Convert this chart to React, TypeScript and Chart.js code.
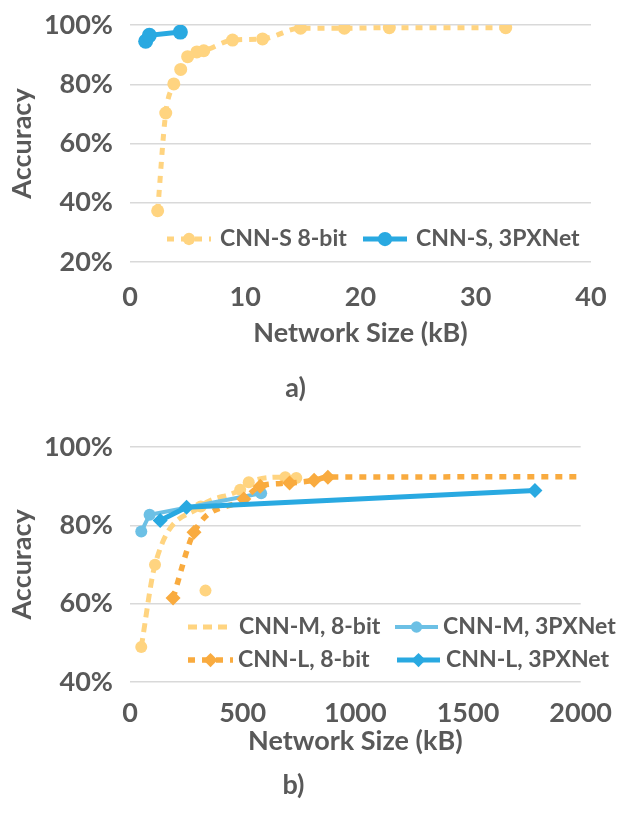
import { useEffect, useRef } from "react";
import { Chart, registerables } from "chart.js";

Chart.register(...registerables);

const FONT = "Lato, 'Open Sans', sans-serif";
const TEXT = "#595959";
const GRID = "#D9D9D9";
const YELLOW = "#FFD480";
const ORANGE = "#F9AB3F";
const LIGHT_BLUE = "#6CC0E5";
const BLUE = "#29A9E1";

// a) CNN-S: network size (kB) vs accuracy (%)
const cnnS8bitSize = [2.4, 3.1, 3.8, 4.4, 5.0, 5.8, 6.4, 8.9, 11.5, 14.8, 18.6, 22.5, 32.6];
const cnnS8bitAcc = [37.3, 70.3, 80.1, 85.0, 89.3, 90.9, 91.3, 94.9, 95.3, 98.9, 98.9, 99.1, 99.1];
const cnnS3pxSize = [1.36, 1.68, 4.37];
const cnnS3pxAcc = [94.5, 96.5, 97.6];

// b) CNN-M and CNN-L
const cnnM8bitSize = [50, 111, 314, 489, 527, 689, 738];
const cnnM8bitAcc = [48.9, 69.9, 84.8, 89.1, 91.0, 92.3, 92.1];
const cnnM8bitExtraSize = [335];
const cnnM8bitExtraAcc = [63.3];
const cnnM3pxSize = [50, 87, 582];
const cnnM3pxAcc = [78.4, 82.7, 88.2];
const cnnL8bitSize = [191, 284, 505, 578, 708, 817, 878, 2600];
const cnnL8bitAcc = [61.4, 78.2, 86.7, 90.0, 90.8, 91.5, 92.3, 92.4];
const cnnL3pxSize = [134, 251, 1797];
const cnnL3pxAcc = [81.2, 84.6, 88.9];

const xTicksTop = { min: 0, max: 40, step: 10 };
const yTicksTop = { min: 20, max: 100, step: 20 };
const xTicksBottom = { min: 0, max: 2000, step: 500 };
const yTicksBottom = { min: 40, max: 100, step: 20 };

const pts = (xs: number[], ys: number[]) => xs.map((x, i) => ({ x, y: ys[i] }));

const font = (size: number) => ({ family: FONT, size, weight: "bold" as const });

// Legend drawn inside the plot area, reusing each dataset's line/marker style.
type LegendItem = { ds: number; y: number; x0: number; x1: number; tx: number };

function drawMarker(ctx: CanvasRenderingContext2D, style: string, x: number, y: number, r: number) {
  ctx.beginPath();
  if (style === "rectRot") {
    ctx.moveTo(x, y - r);
    ctx.lineTo(x + r, y);
    ctx.lineTo(x, y + r);
    ctx.lineTo(x - r, y);
    ctx.closePath();
  } else {
    ctx.arc(x, y, r, 0, Math.PI * 2);
  }
  ctx.fill();
}

const inlineLegend = {
  id: "inlineLegend",
  afterDraw(chart: any, _args: any, opts: any) {
    const ctx: CanvasRenderingContext2D = chart.ctx;
    const items: LegendItem[] = opts.items || [];
    const noMarker: number[] = opts.skipMarker || [];
    ctx.save();
    for (const it of items) {
      const ds = chart.data.datasets[it.ds];
      ctx.strokeStyle = ds.borderColor;
      ctx.lineWidth = ds.borderWidth;
      ctx.setLineDash(ds.borderDash || []);
      ctx.lineCap = "butt";
      ctx.beginPath();
      ctx.moveTo(it.x0, it.y);
      ctx.lineTo(it.x1, it.y);
      ctx.stroke();
      ctx.setLineDash([]);
      if (noMarker.indexOf(it.ds) < 0) {
        ctx.fillStyle = ds.backgroundColor;
        drawMarker(ctx, ds.pointStyle, (it.x0 + it.x1) / 2, it.y, ds.pointRadius * 0.95);
      }
      ctx.fillStyle = TEXT;
      ctx.font = `bold ${opts.fontSize}px ${FONT}`;
      ctx.textBaseline = "middle";
      ctx.textAlign = "left";
      ctx.fillText(ds.label, it.tx, it.y);
    }
    ctx.restore();
  },
};

function baseScales(
  xr: { min: number; max: number; step: number },
  yr: { min: number; max: number; step: number },
  xs: { tickPad: number; titlePad: number; height: number }
) {
  return {
    x: {
      type: "linear" as const,
      min: xr.min,
      max: xr.max,
      ticks: {
        stepSize: xr.step,
        color: TEXT,
        font: font(27),
        padding: xs.tickPad,
        maxRotation: 0,
        callback: (v: any) => String(v),
      },
      grid: { display: false, drawTicks: false },
      border: { display: false },
      title: {
        display: true,
        text: "Network Size (kB)",
        color: TEXT,
        font: font(27),
        padding: { top: 0, bottom: xs.titlePad },
      },
      afterFit: (s: any) => {
        s.height = xs.height;
      },
    },
    y: {
      type: "linear" as const,
      min: yr.min,
      max: yr.max,
      ticks: {
        stepSize: yr.step,
        color: TEXT,
        font: font(27),
        padding: 17,
        callback: (v: any) => `${v}%`,
      },
      grid: { color: GRID, lineWidth: 1.5, drawTicks: false },
      border: { display: false },
      title: {
        display: true,
        text: "Accuracy",
        color: TEXT,
        font: font(27),
        padding: { top: 6, bottom: 0 },
      },
      afterFit: (s: any) => {
        s.width = 130;
        s.paddingTop = 17;
        s.paddingBottom = 17;
      },
    },
  };
}

function topConfig(): any {
  return {
    type: "line",
    data: {
      datasets: [
        {
          label: "CNN-S 8-bit",
          data: pts(cnnS8bitSize, cnnS8bitAcc),
          borderColor: YELLOW,
          backgroundColor: YELLOW,
          borderWidth: 5,
          borderDash: [7, 7],
          pointStyle: "circle",
          pointRadius: 6.5,
          pointBorderWidth: 0,
          cubicInterpolationMode: "monotone",
          order: 1,
        },
        {
          label: "CNN-S, 3PXNet",
          data: pts(cnnS3pxSize, cnnS3pxAcc),
          borderColor: BLUE,
          backgroundColor: BLUE,
          borderWidth: 5,
          pointStyle: "circle",
          pointRadius: 7.5,
          pointBorderWidth: 0,
          order: 0,
        },
      ],
    },
    options: {
      animation: false,
      responsive: true,
      maintainAspectRatio: false,
      events: [],
      layout: { padding: { top: 25, right: 36, left: 0, bottom: 0 } },
      scales: baseScales(xTicksTop, yTicksTop, { tickPad: 19, titlePad: 22, height: 109.6 }),
      plugins: {
        legend: { display: false },
        tooltip: { enabled: false },
        title: {
          display: true,
          text: "a)",
          position: "bottom",
          color: TEXT,
          font: font(27),
          padding: { top: 0, bottom: 6 },
        },
        inlineLegend: {
          fontSize: 23,
          items: [
            { ds: 0, y: 239, x0: 167, x1: 211, tx: 220 },
            { ds: 1, y: 239, x0: 363, x1: 407, tx: 416 },
          ],
        },
      },
    },
    plugins: [inlineLegend],
  };
}

function bottomConfig(): any {
  return {
    type: "line",
    data: {
      datasets: [
        {
          label: "CNN-M, 8-bit",
          data: pts(cnnM8bitSize, cnnM8bitAcc),
          borderColor: YELLOW,
          backgroundColor: YELLOW,
          borderWidth: 5,
          borderDash: [9, 6],
          pointStyle: "circle",
          pointRadius: 6,
          pointBorderWidth: 0,
          cubicInterpolationMode: "monotone",
          order: 4,
        },
        {
          label: "CNN-M, 3PXNet",
          data: pts(cnnM3pxSize, cnnM3pxAcc),
          borderColor: LIGHT_BLUE,
          backgroundColor: LIGHT_BLUE,
          borderWidth: 4,
          pointStyle: "circle",
          pointRadius: 6,
          pointBorderWidth: 0,
          order: 2,
        },
        {
          label: "CNN-L, 8-bit",
          data: pts(cnnL8bitSize, cnnL8bitAcc),
          borderColor: ORANGE,
          backgroundColor: ORANGE,
          borderWidth: 5.5,
          borderDash: [7, 7],
          pointStyle: "rectRot",
          pointRadius: 7.5,
          pointBorderWidth: 0,
          cubicInterpolationMode: "monotone",
          order: 1,
        },
        {
          label: "CNN-L, 3PXNet",
          data: pts(cnnL3pxSize, cnnL3pxAcc),
          borderColor: BLUE,
          backgroundColor: BLUE,
          borderWidth: 5,
          pointStyle: "rectRot",
          pointRadius: 7.5,
          pointBorderWidth: 0,
          order: 0,
        },
        {
          label: "CNN-M, 8-bit (extra)",
          data: pts(cnnM8bitExtraSize, cnnM8bitExtraAcc),
          showLine: false,
          borderColor: YELLOW,
          backgroundColor: YELLOW,
          pointStyle: "circle",
          pointRadius: 6,
          pointBorderWidth: 0,
          order: 3,
        },
      ],
    },
    options: {
      animation: false,
      responsive: true,
      maintainAspectRatio: false,
      events: [],
      layout: { padding: { top: 37, right: 40, left: 0, bottom: 0 } },
      scales: baseScales(xTicksBottom, yTicksBottom, { tickPad: 15, titlePad: 11, height: 86.8 }),
      plugins: {
        legend: { display: false },
        tooltip: { enabled: false },
        title: {
          display: true,
          text: "b)",
          position: "bottom",
          color: TEXT,
          font: font(27),
          padding: { top: 0, bottom: 13 },
        },
        inlineLegend: {
          fontSize: 23,
          skipMarker: [0],
          items: [
            { ds: 0, y: 217, x0: 188, x1: 233, tx: 239 },
            { ds: 1, y: 217, x0: 395, x1: 438, tx: 443 },
            { ds: 2, y: 250, x0: 188, x1: 233, tx: 238 },
            { ds: 3, y: 250, x0: 397, x1: 440, tx: 446 },
          ],
        },
      },
    },
    plugins: [inlineLegend],
  };
}

function ChartCanvas({ make, height }: { make: () => any; height: number }) {
  const ref = useRef<HTMLCanvasElement | null>(null);
  useEffect(() => {
    if (!ref.current) return;
    const chart = new Chart(ref.current, make());
    return () => chart.destroy();
  }, [make]);
  return (
    <div style={{ position: "relative", width: 627, height }}>
      <canvas ref={ref} />
    </div>
  );
}

export default function App() {
  return (
    <div
      style={{
        position: "absolute",
        left: 0,
        top: 0,
        width: 627,
        height: 814,
        background: "#ffffff",
        overflow: "hidden",
      }}
    >
      <ChartCanvas make={topConfig} height={410} />
      <ChartCanvas make={bottomConfig} height={404} />
    </div>
  );
}
